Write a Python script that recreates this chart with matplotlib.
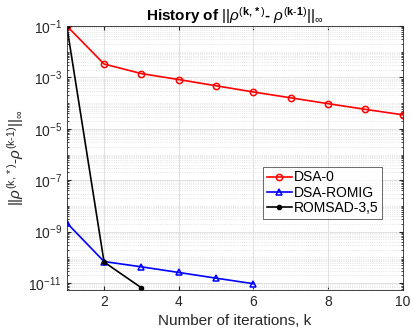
import numpy as np
import matplotlib
matplotlib.use("Agg")
import matplotlib.pyplot as plt
from matplotlib.ticker import LogLocator, NullFormatter

plt.rcParams["font.family"] = ["Liberation Sans", "DejaVu Sans"]
plt.rcParams["mathtext.fontset"] = "custom"
plt.rcParams["mathtext.rm"] = "Liberation Sans"
plt.rcParams["mathtext.it"] = "Liberation Sans:italic"
plt.rcParams["mathtext.bf"] = "Liberation Sans:bold"

# values
k_dsa0 = [1, 2, 3, 4, 5, 6, 7, 8, 9, 10]
err_dsa0 = [1e-1, 3.3e-3, 1.4e-3, 8.2e-4, 4.7e-4, 2.7e-4, 1.6e-4, 9.5e-5, 5.7e-5, 3.5e-5]
k_romig = [1, 2, 3, 4, 5, 6]
err_romig = [2.2e-9, 6.9e-11, 4.3e-11, 2.6e-11, 1.56e-11, 9.5e-12]
k_romsad = [1, 2, 3]
err_romsad = [1e-1, 6.6e-11, 6.6e-12]

xticks = [2, 4, 6, 8, 10]
yticks = [1e-11, 1e-9, 1e-7, 1e-5, 1e-3, 1e-1]

fig = plt.figure(figsize=(4.12, 3.32), dpi=100)
ax = fig.add_axes([0.162, 0.1265, 0.815, 0.7955])

ax.semilogy(k_dsa0, err_dsa0, "-o", color="red", lw=1.2, ms=4.5, mfc="none", mew=1.1, label="DSA-0")
ax.semilogy(k_romig, err_romig, "-^", color="blue", lw=1.2, ms=4.5, mfc="none", mew=1.1, label="DSA-ROMIG")
ax.semilogy(k_romsad, err_romsad, "-o", color="black", lw=1.2, ms=3, label="ROMSAD-3,5")

ax.set_xlim(1, 10)
ax.set_ylim(5.4e-12, 1e-1)
ax.set_xticks(xticks)
ax.set_yticks(yticks)
ax.yaxis.set_minor_locator(LogLocator(base=10, subs=np.arange(1, 10), numticks=50))
ax.yaxis.set_minor_formatter(NullFormatter())

ax.grid(True, which="major", color="#dcdcdc", lw=0.6)
ax.grid(True, which="minor", axis="y", color="#dcdcdc", lw=0.6, ls=":")
ax.set_axisbelow(True)
ax.tick_params(direction="in", which="both", top=True, right=True, labelsize=10, colors="#262626", length=3)
ax.tick_params(which="minor", length=1.5)
for s in ax.spines.values():
    s.set_color("#262626")
    s.set_linewidth(0.6)

ax.set_xlabel("Number of iterations, k", fontsize=11, color="#262626")
ax.set_ylabel(r"$||\rho^{(\mathrm{k,*})}$-$\rho^{(\mathrm{k}\text{-}\mathrm{1})}||_\infty$", fontsize=11, color="#262626", labelpad=2)
ax.set_title(r"History of $||\rho^{(\mathbf{k,*})}$- $\rho^{(\mathbf{k}\text{-}\mathbf{1})}||_\infty$", fontsize=11, fontweight="bold", pad=4)

leg = ax.legend(loc="upper left", bbox_to_anchor=(0.585, 0.466), fontsize=10, fancybox=False,
                edgecolor="#262626", handlelength=1.8, borderpad=0.25, labelspacing=0.1, handletextpad=0.15,
                borderaxespad=0)
leg.get_frame().set_linewidth(0.6)

fig.savefig("out.png", dpi=100)
